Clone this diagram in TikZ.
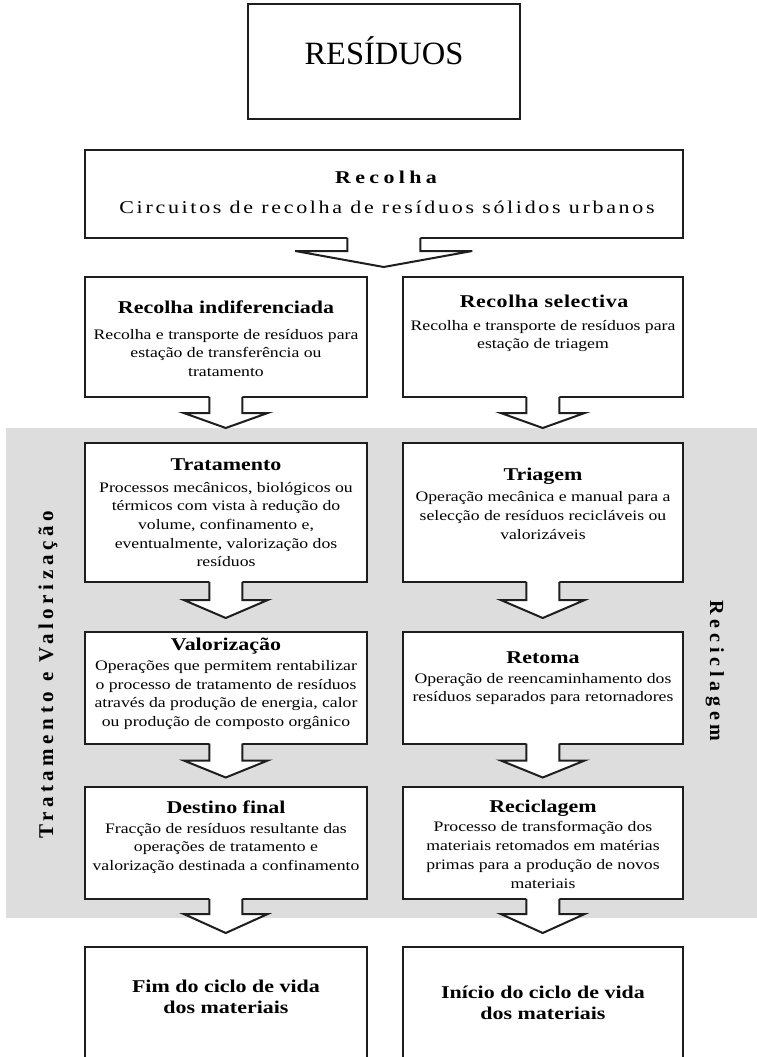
\documentclass[tikz,border=0pt]{standalone}
\usepackage{fontspec}
\setmainfont{Liberation Serif}
\newfontfamily\sfw{Liberation Serif}[FakeStretch=1.22]
\usetikzlibrary{calc}
\definecolor{bggray}{RGB}{221,221,221}
\definecolor{edge}{RGB}{30,30,30}
\tikzset{
  box/.style={draw=edge, line width=2pt, fill=white, outer sep=0pt, inner sep=0pt, anchor=north west},
  arrowline/.style={draw=edge, line width=2pt, line join=miter},
  ttl/.style={inner sep=0pt, anchor=base, font=\sfw\bfseries\fontsize{18}{21}\selectfont},
  bodytxt/.style={inner sep=0pt, anchor=base, align=center, font=\sfw\fontsize{14.5}{18.7}\selectfont},
  endtxt/.style={inner sep=0pt, anchor=base, align=center, font=\sfw\bfseries\fontsize{18}{21}\selectfont},
}
% #1 node, #2 stem half width, #3 head half width, #4 stem length, #5 head height
\newcommand\flowarrow[5]{%
  \path[fill=white] ($(#1.south)+(-#2,-1.5)$) -- ++(0,#4+1.5) -- ++(#2-#3,0)
     -- ($(#1.south)+(0,#4+#5)$) -- ($(#1.south)+(#3,#4)$) -- ++(#2-#3,0) -- ++(0,-#4-1.5) -- cycle;
  \draw[arrowline] ($(#1.south)+(-#2,0)$) -- ++(0,#4) -- ++(#2-#3,0)
     -- ($(#1.south)+(0,#4+#5)$) -- ($(#1.south)+(#3,#4)$) -- ++(#2-#3,0) -- ++(0,-#4);
}
\begin{document}
\begin{tikzpicture}[x=1pt,y=-1pt]
\useasboundingbox (0,0) rectangle (757,1057);
\fill[white] (0,0) rectangle (757,1057);
% grey band
\fill[bggray] (6,428) rectangle (757,918);
% boxes
\node[box, minimum width=272pt, minimum height=115pt] (res) at (248,4) {};
\node[box, minimum width=598.5pt, minimum height=88.5pt] (rec) at (84.5,149.5) {};
\node[box, minimum width=282.5pt, minimum height=120.5pt] (L2) at (84.5,276.5) {};
\node[box, minimum width=280.5pt, minimum height=120.5pt] (R2) at (402.5,276.5) {};
\node[box, minimum width=282.5pt, minimum height=139pt] (L3) at (84.5,443) {};
\node[box, minimum width=280.5pt, minimum height=139pt] (R3) at (402.5,443) {};
\node[box, minimum width=282.5pt, minimum height=111.5pt] (L4) at (84.5,632) {};
\node[box, minimum width=280.5pt, minimum height=111.5pt] (R4) at (402.5,632) {};
\node[box, minimum width=282.5pt, minimum height=112pt] (L5) at (84.5,787) {};
\node[box, minimum width=280.5pt, minimum height=112pt] (R5) at (402.5,787) {};
\node[box, minimum width=282.5pt, minimum height=130pt] (L6) at (84.5,947) {};
\node[box, minimum width=280.5pt, minimum height=130pt] (R6) at (402.5,947) {};
% arrows
\flowarrow{rec}{36.5}{88.5}{13}{16}
\flowarrow{L2}{16.5}{42}{16}{15}
\flowarrow{R2}{16.5}{42}{16}{15}
\flowarrow{L3}{16.5}{42}{18}{18}
\flowarrow{R3}{16.5}{42}{18}{18}
\flowarrow{L4}{16.5}{42}{17}{17}
\flowarrow{R4}{16.5}{42}{17}{17}
\flowarrow{L5}{16.5}{42}{15}{19}
\flowarrow{R5}{16.5}{42}{15}{19}
% texts (multi-line nodes: base = last line)
\node[inner sep=0pt, anchor=base, font=\fontsize{32.5}{36}\selectfont] (tres) at (384,64) {RESÍDUOS};
\node[ttl, font=\sfw\bfseries\addfontfeatures{LetterSpace=24}\fontsize{18}{21}\selectfont] (trec) at (386,183) {Recolha};
\node[bodytxt, font=\sfw\addfontfeatures{LetterSpace=15}\fontsize{18}{21}\selectfont] (brec) at (387,213) {Circuitos de recolha de resíduos sólidos urbanos};
\node[ttl] (tL2) at (226,313) {Recolha indiferenciada};
\node[bodytxt] (bL2) at (226,376.4) {Recolha e transporte de resíduos para\\estação de transferência ou\\tratamento};
\node[ttl, font=\sfw\bfseries\addfontfeatures{LetterSpace=3}\fontsize{18}{21}\selectfont] (tR2) at (544,307) {Recolha selectiva};
\node[bodytxt] (bR2) at (543,348.7) {Recolha e transporte de resíduos para\\estação de triagem};
\node[ttl] (tL3) at (226,470) {Tratamento};
\node[bodytxt] (bL3) at (226,566.8) {Processos mecânicos, biológicos ou\\térmicos com vista à redução do\\volume, confinamento e,\\eventualmente, valorização dos\\resíduos};
\node[ttl] (tR3) at (543,480) {Triagem};
\node[bodytxt] (bR3) at (543,539) {Operação mecânica e manual para a\\selecção de resíduos recicláveis ou\\valorizáveis};
\node[ttl] (tL4) at (226,650) {Valorização};
\node[bodytxt] (bL4) at (226,726.5) {Operações que permitem rentabilizar\\o processo de tratamento de resíduos\\através da produção de energia, calor\\ou produção de composto orgânico};
\node[ttl] (tR4) at (543,663) {Retoma};
\node[bodytxt] (bR4) at (543,701.7) {Operação de reencaminhamento dos\\resíduos separados para retornadores};
\node[ttl] (tL5) at (226,813) {Destino final};
\node[bodytxt] (bL5) at (226,870.4) {Fracção de resíduos resultante das\\operações de tratamento e\\valorização destinada a confinamento};
\node[ttl] (tR5) at (543,812) {Reciclagem};
\node[bodytxt] (bR5) at (543,888) {Processo de transformação dos\\materiais retomados em matérias\\primas para a produção de novos\\materiais};
\node[endtxt] (tL6) at (226,1013) {Fim do ciclo de vida\\dos materiais};
\node[endtxt] (tR6) at (543,1019) {Início do ciclo de vida\\dos materiais};
% side labels
\node[inner sep=0pt, anchor=base, rotate=90, font=\bfseries\addfontfeatures{LetterSpace=22}\fontsize{21}{24}\selectfont] (sideL) at (53,675) {Tratamento e Valorização};
\node[inner sep=0pt, anchor=base, rotate=-90, font=\bfseries\addfontfeatures{LetterSpace=24}\fontsize{20}{24}\selectfont] (sideR) at (710,671) {Reciclagem};
\end{tikzpicture}
\end{document}
